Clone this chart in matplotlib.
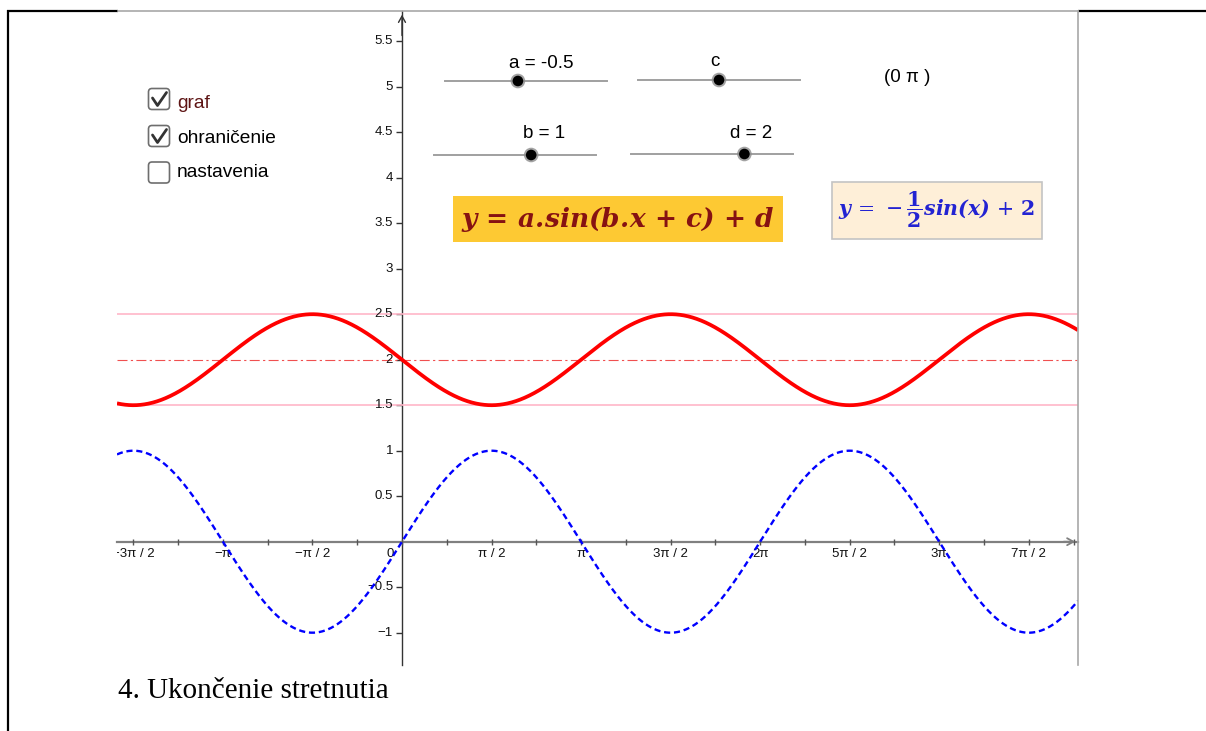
import numpy as np
import matplotlib
matplotlib.use('Agg')
import matplotlib.pyplot as plt
from matplotlib.patches import FancyBboxPatch, Rectangle, Circle
from matplotlib.transforms import offset_copy

plt.rcParams['font.family'] = ['Liberation Sans', 'DejaVu Sans']
plt.rcParams['mathtext.fontset'] = 'dejavuserif'

# ---------------- data ----------------
# slider parameters of y = a.sin(b.x + c) + d
slider_names = ['a', 'b', 'c', 'd']
slider_values = [-0.5, 1.0, 0.0, 2.0]
slider_min = [-5.0, -5.0, -2 * np.pi, -5.0]
slider_max = [5.0, 5.0, 2 * np.pi, 5.0]
slider_labels = ['a = -0.5', 'b = 1', 'c', 'd = 2']
c_display = '(0 π )'

# base curve y = sin(x) (blue dashed)
base_amp, base_freq, base_phase, base_shift = 1.0, 1.0, 0.0, 0.0

# bounding lines
bound_upper = 2.5
bound_lower = 1.5
mid_line = 2.0

checkbox_labels = ['graf', 'ohraničenie', 'nastavenia']
checkbox_checked = [True, True, False]

x_tick_halfpi = [-3, -2, -1, 1, 2, 3, 4, 5, 6, 7]
x_tick_labels = ['−3π / 2', '−π', '−π / 2', 'π / 2', 'π', '3π / 2', '2π', '5π / 2', '3π', '7π / 2']
y_tick_values = [-1, -0.5, 0.5, 1, 1.5, 2, 2.5, 3, 3.5, 4, 4.5, 5, 5.5]
y_tick_labels = ['−1', '−0.5', '0.5', '1', '1.5', '2', '2.5', '3', '3.5', '4', '4.5', '5', '5.5']

formula_general = r'$\mathbfit{y \,=\, a.\!sin(b.\!x \,+\, c) \,+\, d}$'
formula_current = r'$\mathbfit{y} \,=\, -\dfrac{\mathbf{1}}{\mathbf{2}}\mathbfit{sin(x)} \,+\, \mathbf{2}$'
footer_text = '4. Ukončenie stretnutia'

# ---------------- figure ----------------
W, H = 1206, 731
fig = plt.figure(figsize=(W / 100, H / 100), dpi=100)
fig.patch.set_facecolor('white')

vx0, vx1, vy0, vy1 = 117, 1078, 11, 665  # graphics view in pixels
ox, oy = 402, 541.7                       # origin pixel
sx, sy = 57.0, 91.0                       # px per unit

ax = fig.add_axes([vx0 / W, 1 - vy1 / H, (vx1 - vx0) / W, (vy1 - vy0) / H])
xmin, xmax = (vx0 - ox) / sx, (vx1 - ox) / sx
ymin, ymax = -(vy1 - oy) / sy, (oy - vy0) / sy
ax.set_xlim(xmin, xmax)
ax.set_ylim(ymin, ymax)
ax.patch.set_alpha(0)

for s in ['top', 'right']:
    ax.spines[s].set_visible(False)
ax.spines['bottom'].set_position(('data', 0))
ax.spines['left'].set_position(('data', 0))
ax.spines['bottom'].set_color('#808080')
ax.spines['bottom'].set_linewidth(1.6)
ax.spines['left'].set_color('#333333')
ax.spines['left'].set_linewidth(1.0)
ax.spines['bottom'].set_zorder(1)
ax.spines['left'].set_zorder(1)

qt = np.pi / 4
kmin, kmax = int(np.ceil(xmin / qt)), int(np.floor(xmax / qt))
ax.set_xticks([k * qt for k in range(kmin, kmax + 1)])
ax.set_xticklabels([])
ax.tick_params(axis='x', direction='inout', length=4, width=1, color='#555555')
ax.set_yticks(y_tick_values)
ax.set_yticklabels([])
ax.tick_params(axis='y', direction='out', length=4, width=1, color='#333333')

# arrows
ax.annotate('', xy=(xmax, 0), xytext=(xmax - 0.3, 0), annotation_clip=False,
            arrowprops=dict(arrowstyle='->,head_length=0.45,head_width=0.25', color='#808080', lw=1.3))
ax.annotate('', xy=(0, ymax - 0.01), xytext=(0, ymax - 0.3), annotation_clip=False,
            arrowprops=dict(arrowstyle='->,head_length=0.45,head_width=0.25', color='#333333', lw=1.0))

# tick labels (clipped by the view like in GeoGebra)
tx = offset_copy(ax.transData, fig=fig, x=0, y=-12 * 0.72, units='points')
for k, lab in zip(x_tick_halfpi, x_tick_labels):
    ax.text(k * np.pi / 2, 0, lab, transform=tx, ha='center', va='center',
            fontsize=9.5, color='#111111', clip_on=True)
ty = offset_copy(ax.transData, fig=fig, x=-9 * 0.72, y=0, units='points')
for v, lab in zip(y_tick_values, y_tick_labels):
    ax.text(0, v, lab, transform=ty, ha='right', va='center', fontsize=9.5, color='#111111', clip_on=True)
to = offset_copy(ax.transData, fig=fig, x=-12 * 0.72, y=-12 * 0.72, units='points')
ax.text(0, 0, '0', transform=to, ha='center', va='center', fontsize=9.5, color='#111111')

# lines
ax.axhline(bound_upper, color='#FFB6C8', lw=1.2, zorder=2)
ax.axhline(bound_lower, color='#FFB6C8', lw=1.2, zorder=2)
ax.axhline(mid_line, color='#F05050', lw=0.8, linestyle=(0, (9, 3, 2, 3)), zorder=2)

xs = np.linspace(xmin, xmax, 2000)
a, b, c, d = slider_values
y_red = a * np.sin(b * xs + c) + d
y_blue = base_amp * np.sin(base_freq * xs + base_phase) + base_shift
ax.plot(xs, y_blue, color='#0000FF', lw=1.7, linestyle=(0, (2.6, 1.6)), zorder=3)
ax.plot(xs, y_red, color='#FF0000', lw=2.7, zorder=4, solid_capstyle='butt')

# ---------------- overlay in pixel coordinates ----------------
ov = fig.add_axes([0, 0, 1, 1])
ov.set_xlim(0, W)
ov.set_ylim(H, 0)
ov.axis('off')

# document / view frames
ov.plot([7, vx0 + 1], [11, 11], color='black', lw=1.6, solid_capstyle='butt')
ov.plot([vx1, W], [11, 11], color='black', lw=1.6, solid_capstyle='butt')
ov.plot([8, 8], [10.4, H], color='black', lw=1.6, solid_capstyle='butt')
ov.plot([vx0 + 1, vx1], [11, 11], color='#A8A8A8', lw=1.2)
ov.plot([vx1, vx1], [11, vy1], color='#A8A8A8', lw=1.2)

# sliders
slider_x0 = [445, 434, 638, 631]
slider_y = [81, 155, 80, 154]
slider_len = 162
label_pos = [(541, 63), (544, 134), (715, 62), (751, 133)]
for i in range(4):
    x0, y0 = slider_x0[i], slider_y[i]
    ov.plot([x0, x0 + slider_len], [y0, y0], color='#A0A0A0', lw=1.4, zorder=2)
    frac = (slider_values[i] - slider_min[i]) / (slider_max[i] - slider_min[i])
    kx = x0 + slider_len * frac
    ov.add_patch(Circle((kx, y0), 7.3, color='#8C8C8C', alpha=0.8, lw=0, zorder=3))
    ov.add_patch(Circle((kx, y0), 5.3, color='black', lw=0, zorder=4))
    ov.text(label_pos[i][0], label_pos[i][1], slider_labels[i], ha='center', va='center',
            fontsize=13.5, color='black')
ov.text(907, 77, c_display, ha='center', va='center', fontsize=13.5, color='black')

# checkboxes
box_y = [88, 125, 161.5]
text_base = [108, 143, 177]
for lab, chk, by, tb in zip(checkbox_labels, checkbox_checked, box_y, text_base):
    ov.add_patch(FancyBboxPatch((148.5, by + 0.5), 21, 21,
                                boxstyle='round,pad=0,rounding_size=3.5',
                                ec='#6E6E6E', fc='white', lw=1.2))
    if chk:
        ov.plot([152.5, 157.5, 166.5], [by + 10, by + 17.5, by + 4.5], color='#333333', lw=2.0,
                solid_capstyle='round', solid_joinstyle='round')
    ov.text(177, tb, lab, ha='left', va='baseline', fontsize=13.8,
            color='#5E1515' if lab == 'graf' else 'black')

# formula boxes
ov.add_patch(Rectangle((453, 196), 330, 46, fc='#FDC933', ec='none'))
ov.text(618, 219, formula_general, ha='center', va='center', fontsize=19, color='#861212')
ov.add_patch(Rectangle((831.5, 181.5), 210.5, 57.5, fc='#FEEFD8', ec='#C4C4C4', lw=1.2))
ov.text(936.5, 210, formula_current, ha='center', va='center', fontsize=14.8, color='#2323D2')

# footer text
ov.text(118, 698, footer_text, ha='left', va='baseline', fontsize=21,
        family=['Liberation Serif', 'DejaVu Serif'], color='black')

fig.savefig('out.png', dpi=100)
